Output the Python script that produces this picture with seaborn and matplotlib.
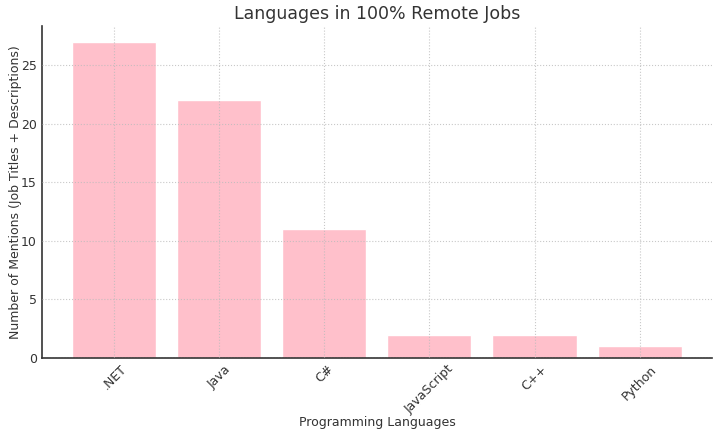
import pandas as pd
import matplotlib.pyplot as plt
import seaborn as sns

languages = ['.NET', 'Java', 'C#', 'JavaScript', 'C++', 'Python']
mentions = [27, 22, 11, 2, 2, 1]

df = pd.DataFrame({'language': languages, 'mentions': mentions})

sns.set_style('white')
plt.rcParams['font.family'] = ['DejaVu Sans']

fig, ax = plt.subplots(figsize=(7.2, 4.36), dpi=100)
sns.barplot(data=df, x='language', y='mentions', color='pink', saturation=1, width=0.8, ax=ax)

ax.set_title('Languages in 100% Remote Jobs', fontsize=12.5, color='#333333', pad=5)
ax.set_xlabel('Programming Languages', fontsize=9, color='#333333', labelpad=0)
ax.set_ylabel('Number of Mentions (Job Titles + Descriptions)', fontsize=9, color='#333333', labelpad=-1)
plt.xticks(rotation=45)
ax.tick_params(axis='both', direction='in', length=4, colors='#333333', labelsize=9)

ax.set_axisbelow(False)
ax.grid(True, linestyle=':', color='#bbbbbb', linewidth=0.8, alpha=0.8)
for side in ['top', 'right']:
    ax.spines[side].set_visible(False)
for side in ['left', 'bottom']:
    ax.spines[side].set_color('#333333')
    ax.spines[side].set_linewidth(1.2)

ax.set_xlim(-0.69, 5.69)
ax.set_ylim(0, 28.35)

plt.subplots_adjust(left=0.058, right=0.989, top=0.941, bottom=0.179)
plt.savefig('out.png')
